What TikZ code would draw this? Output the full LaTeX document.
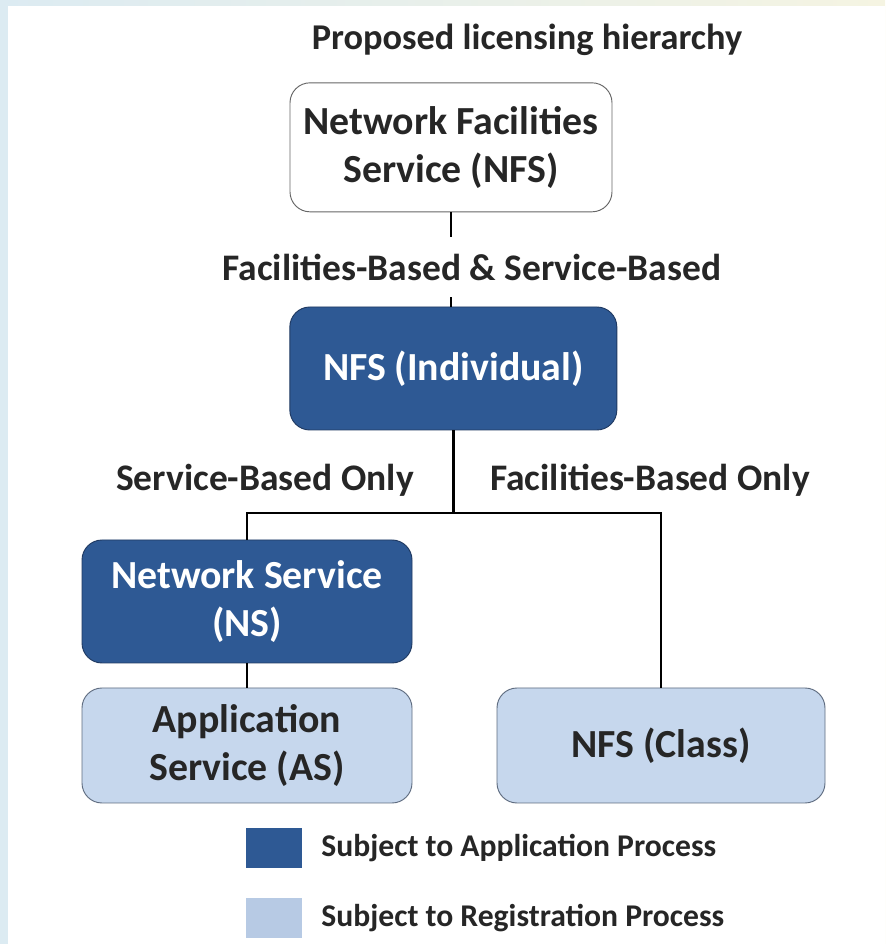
\documentclass[tikz,border=0pt]{standalone}
\usepackage{fontspec}
\setmainfont{Carlito}
\usetikzlibrary{positioning,backgrounds}

\definecolor{darkbox}{RGB}{46,89,148}
\definecolor{darkedge}{RGB}{32,58,98}
\definecolor{lightbox}{RGB}{198,215,237}
\definecolor{lightedge}{RGB}{95,108,128}
\definecolor{sidebg}{RGB}{220,235,242}
\definecolor{topbg}{RGB}{245,244,226}

\begin{document}
\begin{tikzpicture}[
    auto,
    block/.style={
        rectangle,
        draw,
        thick,
        align=center,
        rounded corners=0.6cm,
        font=\fontsize{34}{41}\selectfont\bfseries
    },
    darkblock/.style={
        block, fill=darkbox, draw=darkedge, text=white
    },
    lightblock/.style={
        block, fill=lightbox, draw=lightedge, text=black!85
    },
    whiteblock/.style={
        block, fill=white, draw=black!60, text=black!85
    },
    tag/.style={
        font=\fontsize{32}{38}\selectfont\bfseries, text=black!85
    },
    key/.style={
        rectangle, minimum width=1.68cm, minimum height=1.2cm
    },
    keytext/.style={
        font=\fontsize{27}{32}\selectfont\bfseries, text=black!85, anchor=west
    },
    line/.style={
        draw, line width=2pt
    }
]

    % Background
    \useasboundingbox (0,0) rectangle (26.55,28.32);
    \fill [left color=sidebg, right color=topbg] (0,0) rectangle (26.55,28.32);
    \fill [white] (0.24,0) rectangle (26.55,28.14);

    % Nodes
    \node [tag, font=\fontsize{31}{36}\selectfont\bfseries] (title) at (15.81,27.12) {Proposed licensing hierarchy};

    \node [whiteblock, minimum width=9.66cm, minimum height=3.87cm] (nfs) at (13.53,23.90) {Network Facilities \\ Service (NFS)};
    \node [tag, inner sep=0.5cm] (both) at (14.16,20.31) {Facilities-Based \& Service-Based};
    \node [darkblock, minimum width=9.81cm, minimum height=3.69cm] (ind) at (13.6,17.265) {NFS (Individual)};

    \node [tag] (svconly) at (7.95,13.92) {Service-Based Only};
    \node [tag] (faconly) at (19.5,13.92) {Facilities-Based Only};

    \node [darkblock, minimum width=9.9cm, minimum height=3.69cm] (ns) at (7.41,10.275) {Network Service \\ (NS)};
    \node [lightblock, minimum width=9.9cm, minimum height=3.45cm] (as) at (7.41,5.955) {Application \\ Service (AS)};
    \node [lightblock, minimum width=9.84cm, minimum height=3.45cm] (cls) at (19.83,5.955) {NFS (Class)};

    \coordinate (split) at (13.6,12.93);

    % Legend
    \node [key, fill=darkbox] (keydark) at (8.22,2.88) {};
    \node [key, fill=lightbox!90!darkbox] (keylight) at (8.22,0.78) {};
    \node [keytext, right=0.45cm of keydark] (keydarktxt) {Subject to Application Process};
    \node [keytext, right=0.45cm of keylight] (keylighttxt) {Subject to Registration Process};

    % Edges
    \path [line] (nfs) -- (nfs |- both.north);
    \path [line] (nfs |- both.south) -- (nfs |- ind.north);
    \path [line] (ind) -- (split);
    \path [line] (ns.north) |- (split) -| (cls.north);
    \path [line] (ns) -- (as);

\end{tikzpicture}
\end{document}
